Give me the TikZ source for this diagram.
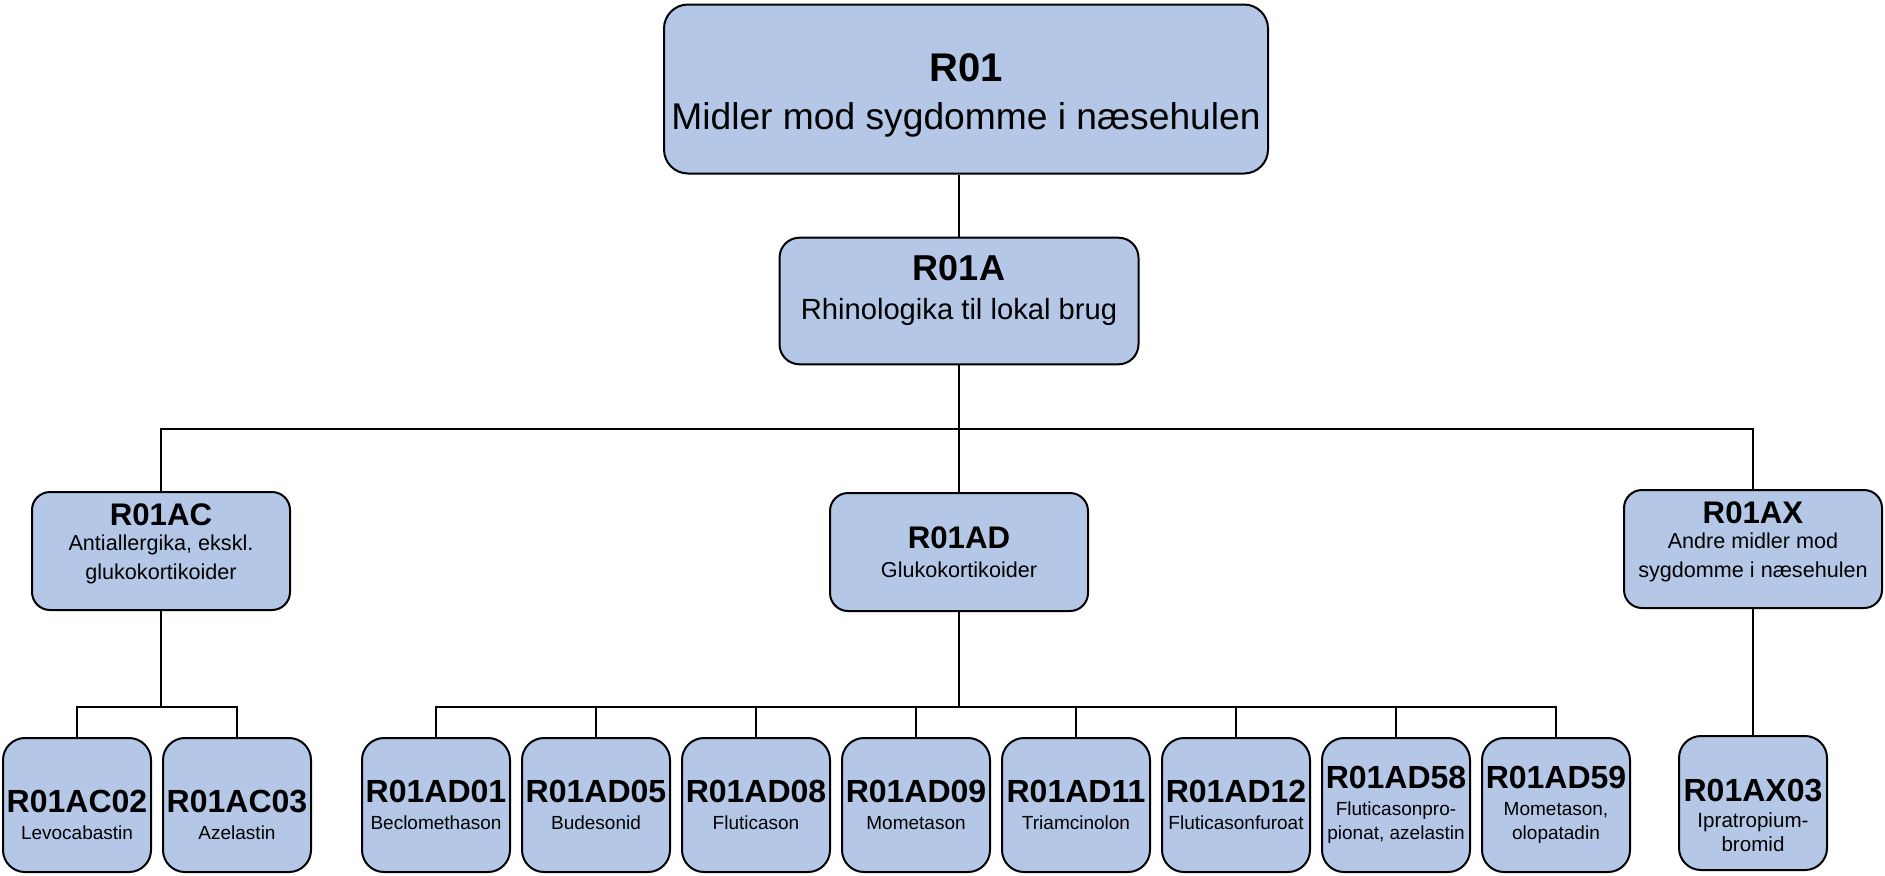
\documentclass[tikz,border=0pt]{standalone}
\usepackage{fontspec}
\setmainfont{Liberation Sans}
\usetikzlibrary{positioning}
\definecolor{atcblue}{HTML}{B4C7E7}

\newcommand{\atc}[2]{{\fontsize{#1}{#1}\selectfont\bfseries #2}}

\begin{document}
\begin{tikzpicture}[x=0.5pt, y=-0.5pt,
  box/.style={draw=black, line width=1pt, fill=atcblue, align=center, inner sep=1pt},
  topbox/.style={box, minimum width=302pt, minimum height=84.5pt, rounded corners=12pt, font=\fontsize{18.6}{22}\selectfont},
  groupbox/.style={box, minimum width=179.5pt, minimum height=63.3pt, rounded corners=10pt, font=\fontsize{14.6}{17.5}\selectfont},
  classbox/.style={box, minimum width=129pt, minimum height=59pt, rounded corners=9pt, font=\fontsize{10.8}{14.6}\selectfont},
  drugbox/.style={box, minimum width=74pt, minimum height=67pt, rounded corners=11pt, font=\fontsize{9.5}{12}\selectfont},
  link/.style={line width=0.75pt}
]
  \useasboundingbox (0,0) rectangle (1885,875);
  \def\gap{5pt}

  % Top levels
  \node[topbox] (r01) at (966,89) {\rule{0pt}{20pt}\atc{20}{R01}\\[2pt]Midler mod sygdomme i næsehulen};
  \node[groupbox] (r01a) at (959,301) {\atc{18}{R01A}\\[2pt]Rhinologika til lokal brug\rule[-14pt]{0pt}{14pt}};

  % Therapeutic subgroups
  \node[classbox] (r01ac) at (161,551) {\atc{15.6}{R01AC}\\[-2pt]Antiallergika, ekskl.\\glukokortikoider\rule[-9.5pt]{0pt}{9.5pt}};
  \node[classbox] (r01ad) at (959,552) {\atc{15.6}{R01AD}\\Glukokortikoider};
  \node[classbox] (r01ax) at (1753,549) {\atc{15.6}{R01AX}\\[-2pt]Andre midler mod\\sygdomme i næsehulen\rule[-9.5pt]{0pt}{9.5pt}};

  % Substances under R01AC
  \node[drugbox] (ac02) at (77,805) {\rule{0pt}{21.5pt}\atc{16}{R01AC02}\\[1.5pt]Levocabastin};
  \node[drugbox, right=\gap of ac02] (ac03) {\rule{0pt}{21.5pt}\atc{16}{R01AC03}\\[1.5pt]Azelastin};

  % Substances under R01AD
  \node[drugbox] (ad01) at (436,805) {\atc{16}{R01AD01}\\[1.5pt]Beclomethason};
  \node[drugbox, right=\gap of ad01] (ad05) {\atc{16}{R01AD05}\\[1.5pt]Budesonid};
  \node[drugbox, right=\gap of ad05] (ad08) {\atc{16}{R01AD08}\\[1.5pt]Fluticason};
  \node[drugbox, right=\gap of ad08] (ad09) {\atc{16}{R01AD09}\\[1.5pt]Mometason};
  \node[drugbox, right=\gap of ad09] (ad11) {\atc{16}{R01AD11}\\[1.5pt]Triamcinolon};
  \node[drugbox, right=\gap of ad11] (ad12) {\atc{16}{R01AD12}\\[1.5pt]Fluticasonfuroat};
  \node[drugbox, right=\gap of ad12] (ad58) {\atc{16}{R01AD58}\\[1.5pt]Fluticasonpro-\\pionat, azelastin};
  \node[drugbox, right=\gap of ad58] (ad59) {\atc{16}{R01AD59}\\[1.5pt]Mometason,\\olopatadin};

  % Substance under R01AX
  \node[drugbox, font=\fontsize{10.3}{11.8}\selectfont] (ax03) at (1753,803) {\rule{0pt}{23.5pt}\atc{16}{R01AX03}\\[1.5pt]Ipratropium-\\bromid};

  % Connectors
  \coordinate (bar1) at (0,429);
  \coordinate (bar2) at (0,707);
  \draw[link] (r01a.north) -- (r01a.north |- r01.south);
  \draw[link] (r01a.south) -- (r01ad.north);
  \draw[link] (r01ac.north) -- (r01ac.north |- bar1) -- (r01ax.north |- bar1) -- (r01ax.north);

  \draw[link] (r01ac.south) -- (r01ac.south |- bar2);
  \draw[link] (ac02.north) -- (ac02.north |- bar2) -- (ac03.north |- bar2) -- (ac03.north);

  \draw[link] (r01ad.south) -- (r01ad.south |- bar2);
  \draw[link] (ad01.north) -- (ad01.north |- bar2) -- (ad59.north |- bar2) -- (ad59.north);
  \foreach \n in {ad05,ad08,ad09,ad11,ad12,ad58}
    \draw[link] (\n.north) -- (\n.north |- bar2);

  \draw[link] (r01ax.south) -- (ax03.north);
\end{tikzpicture}
\end{document}
